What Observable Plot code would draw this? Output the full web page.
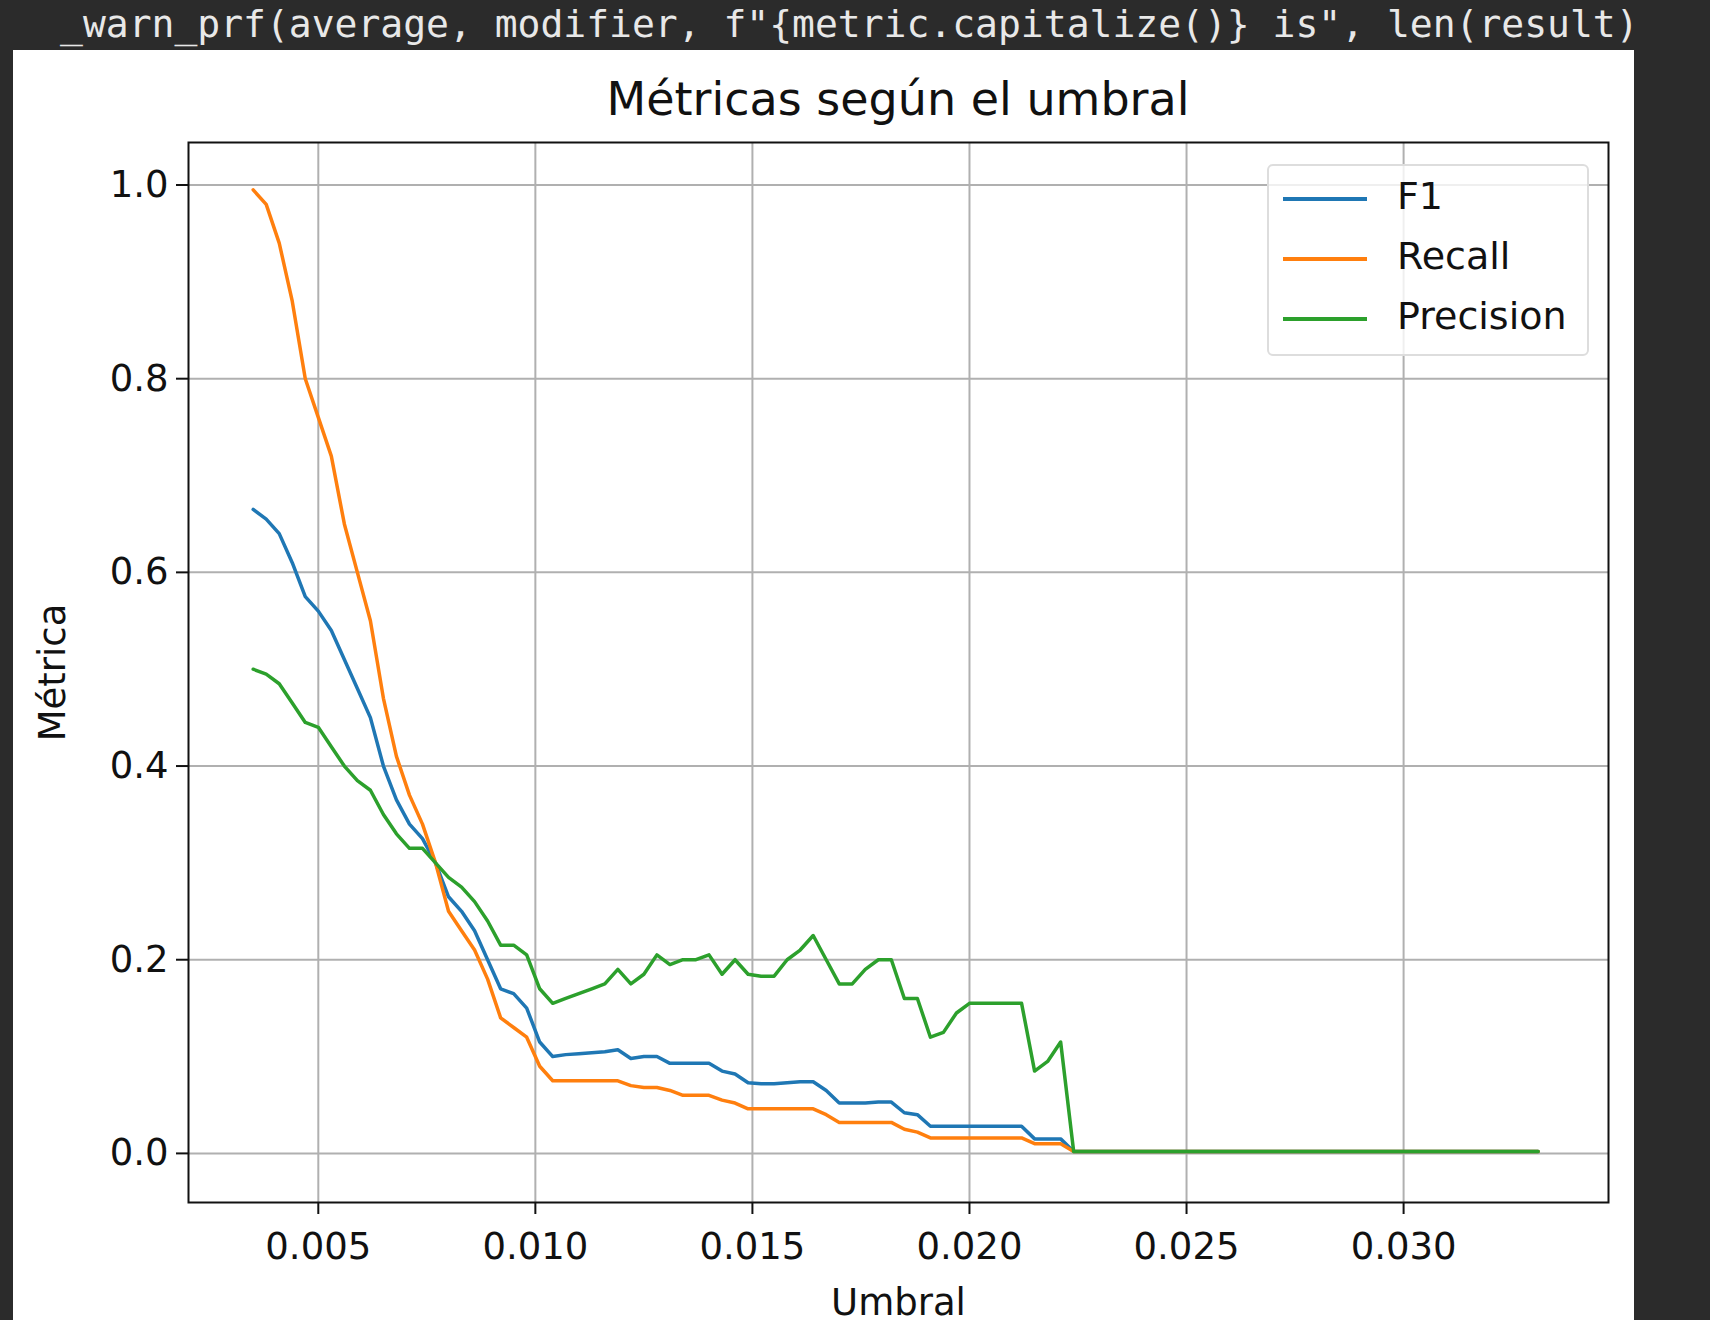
<!DOCTYPE html>
<html>
<head>
<meta charset="utf-8">
<script src="https://cdn.jsdelivr.net/npm/d3@7"></script>
<script src="https://cdn.jsdelivr.net/npm/@observablehq/plot@0.6"></script>
<style>
  body { margin: 0; background: #2b2b2b; width: 1710px; height: 1320px; overflow: hidden; position: relative; font-family: "DejaVu Sans", sans-serif; }
  #warn { position: absolute; left: 60px; top: 2px; color: #e8e8e8; font: 38px "DejaVu Sans Mono", monospace; white-space: pre; }
  #panel { position: absolute; left: 13px; top: 50px; width: 1621px; height: 1270px; background: #fff; }
  #title { position: absolute; left: 188px; width: 1420px; top: 72px; text-align: center; font-size: 46px; color: #111; }
  #chart { position: absolute; left: 13px; top: 50px; }
  #legend { position: absolute; left: 1267px; top: 164px; width: 318px; height: 188px; border: 2px solid #ddd; border-radius: 6px; background: rgba(255,255,255,0.8); }
  .item { position: absolute; left: 14px; font-size: 38px; color: #111; }
  .item span { display: inline-block; width: 84px; height: 4px; vertical-align: middle; margin-right: 30px; }
</style>
</head>
<body>
<div id="warn">_warn_prf(average, modifier, f"{metric.capitalize()} is", len(result)</div>
<div id="panel"></div>
<div id="chart"></div>
<div id="title">Métricas según el umbral</div>
<div id="legend"></div>
<script>
const umbral = d3.range(64).map(i => +(0.0035 + 0.0003 * i).toFixed(4)).concat([0.0331])

const recall = [.995,.98,.94,.88,.80,.76,.72,.65,.60,.55,.47,.41,.37,.34,.30,.25,.23,.21,.18,.14,.13,.12,.09,.075,.075,.075,.075,.075,.075,.07,.068,.068,.065,.06,.06,.06,.055,.052,.046,.046,.046,.046,.046,.046,.04,.032,.032,.032,.032,.032,.025,.022,.016,.016,.016,.016,.016,.016,.016,.016,.01,.01,.01,.002,.002]
const f1 = [.665,.655,.64,.61,.575,.56,.54,.51,.48,.45,.40,.365,.34,.325,.30,.265,.25,.23,.20,.17,.165,.15,.115,.10,.102,.103,.104,.105,.107,.098,.100,.100,.093,.093,.093,.093,.085,.082,.073,.072,.072,.073,.074,.074,.065,.052,.052,.052,.053,.053,.042,.04,.028,.028,.028,.028,.028,.028,.028,.028,.015,.015,.015,.002,.002]
const precision = [.50,.495,.485,.465,.445,.44,.42,.40,.385,.375,.35,.33,.315,.315,.30,.285,.275,.26,.24,.215,.215,.205,.17,.155,.16,.165,.17,.175,.19,.175,.185,.205,.195,.20,.20,.205,.185,.20,.185,.183,.183,.20,.21,.225,.20,.175,.175,.19,.20,.20,.16,.16,.12,.125,.145,.155,.155,.155,.155,.155,.085,.095,.115,.002,.002]

const series = [
  {name: 'F1', values: f1, color: '#1f77b4'},
  {name: 'Recall', values: recall, color: '#ff7f0e'},
  {name: 'Precision', values: precision, color: '#2ca02c'},
]
const xTicks = [0.005, 0.010, 0.015, 0.020, 0.025, 0.030]
const yTicks = [0, 0.2, 0.4, 0.6, 0.8, 1.0]

const rows = series.flatMap(s => umbral.map((u, i) => ({umbral: u, valor: s.values[i], serie: s.name})))

let chart = Plot.plot({
  width: 1621,
  height: 1270,
  marginLeft: 175,
  marginRight: 26,
  marginTop: 92,
  marginBottom: 118,
  style: {fontFamily: 'DejaVu Sans', fontSize: '37px', color: '#111', background: 'transparent'},
  x: {domain: [0.00201, 0.03472]},
  y: {domain: [-0.0507, 1.0439]},
  color: {domain: series.map(s => s.name), range: series.map(s => s.color)},
  marks: [
    Plot.gridX(xTicks, {stroke: '#b0b0b0', strokeOpacity: 1, strokeWidth: 2}),
    Plot.gridY(yTicks, {stroke: '#b0b0b0', strokeOpacity: 1, strokeWidth: 2}),
    Plot.line(rows, {x: 'umbral', y: 'valor', z: 'serie', stroke: 'serie', strokeWidth: 3.5}),
    Plot.frame({stroke: '#111', strokeWidth: 2}),
    Plot.axisX(xTicks, {tickSize: 12, tickPadding: 18, tickFormat: d3.format('.3f'), label: 'Umbral', labelAnchor: 'center', labelArrow: 'none', labelOffset: 112, strokeWidth: 2}),
    Plot.axisY(yTicks, {tickSize: 12, tickPadding: 8, tickFormat: d3.format('.1f'), label: 'Métrica', labelAnchor: 'center', labelArrow: 'none', labelOffset: 150, strokeWidth: 2}),
  ],
})
d3.select('#chart').append(() => chart)

const legend = d3.select('#legend')
series.forEach((s, i) => {
  legend.append('div').attr('class', 'item').style('top', (8 + i * 60) + 'px')
    .html(`<span style="background:${s.color}"></span>${s.name}`)
})
</script>
</body>
</html>
